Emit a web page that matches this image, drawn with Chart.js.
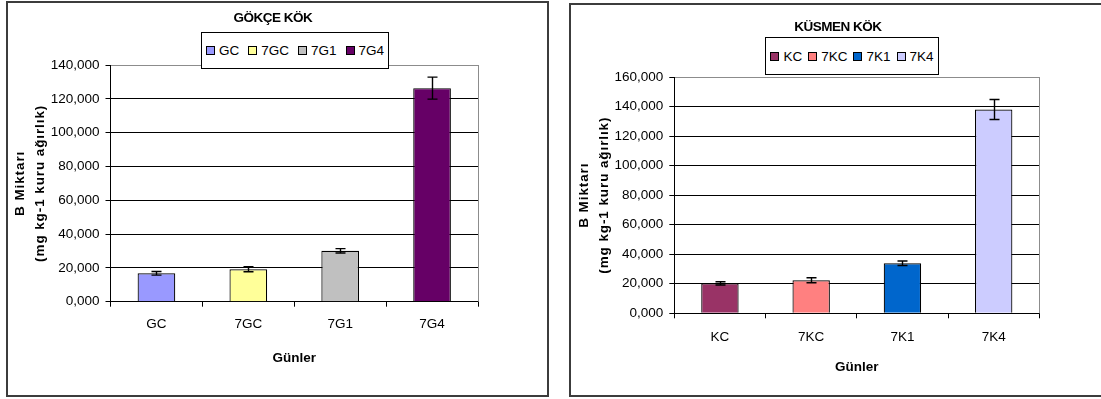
<!DOCTYPE html>
<html>
<head>
<meta charset="utf-8">
<script src="https://cdn.jsdelivr.net/npm/chart.js@4.4.1/dist/chart.umd.min.js"></script>
<style>
  html, body { margin: 0; padding: 0; background: #fff; }
  body { width: 1101px; height: 399px; position: relative; overflow: hidden;
         font-family: 'Liberation Sans', Arial, sans-serif; color: #000; }
  .frame { position: absolute; border: 2px solid #3c3c3c; box-sizing: border-box; }
  canvas { position: absolute; top: 0; }
  .ttl { position: absolute; font-weight: bold; font-size: 13.5px; white-space: nowrap;
         transform: translate(-50%, -50%); letter-spacing: -0.5px; }
  .lg { position: absolute; border: 1px solid #000; background: #fff; box-sizing: border-box;
        display: flex; align-items: center; justify-content: center; font-size: 13.5px; z-index: 2; }
  .lg .it { display: flex; align-items: center; gap: 4px; }
  .lg i { display: inline-block; width: 7px; height: 7px; border: 1px solid #000; }
</style>
</head>
<body>
<div class="frame" style="left:6px;top:1px;width:543px;height:396px;"></div>
<div class="frame" style="left:569px;top:3px;width:540px;height:394px;"></div>

<canvas id="gokce" width="550" height="399" style="left:0;width:550px;height:399px;"></canvas>
<canvas id="kusmen" width="551" height="399" style="left:550px;width:551px;height:399px;"></canvas>

<div class="ttl" style="left:273px;top:17px;">GÖKÇE KÖK</div>
<div class="ttl" style="left:838px;top:26px;">KÜSMEN KÖK</div>
<div class="lg" id="gokceLegend" style="left:201px;top:32px;width:188px;height:37px;gap:9px;"></div>
<div class="lg" id="kusmenLegend" style="left:765px;top:37px;width:174px;height:38px;gap:6px;"></div>

<script>
// B content of roots, mg kg-1 dry weight, mean and error per treatment
const gokceLabels = ['GC', '7GC', '7G1', '7G4'];
const gokceValues = [16.8, 19.2, 30.1, 126.3];
const gokceErrors = [1.1, 1.5, 1.3, 6.5];
const gokceColors = ['#9999FF', '#FFFF99', '#C0C0C0', '#660066'];
const gokceYMax = 140;

const kusmenLabels = ['KC', '7KC', '7K1', '7K4'];
const kusmenValues = [20.3, 22.4, 33.9, 138.0];
const kusmenErrors = [1.1, 1.7, 1.5, 6.8];
const kusmenColors = ['#993366', '#FF8080', '#0066CC', '#CCCCFF'];
const kusmenYMax = 160;

const yStep = 20;
const xTitle = 'Günler';
const yTitle = ['B Miktarı', '(mg kg-1 kuru ağırlık)'];

const FONT = "'Liberation Sans', Arial, sans-serif";

// vertical error bars with short caps on each bar
const errorBars = {
  id: 'errorBars',
  afterDatasetsDraw(chart) {
    const ctx = chart.ctx;
    const ds = chart.data.datasets[0];
    const meta = chart.getDatasetMeta(0);
    const y = chart.scales.y;
    ctx.save();
    ctx.strokeStyle = '#000';
    ctx.lineWidth = 1.4;
    meta.data.forEach((bar, i) => {
      const v = ds.data[i], e = ds.errors[i];
      const x = Math.round(bar.x) + 0.5;
      const yt = y.getPixelForValue(v + e), yb = y.getPixelForValue(v - e);
      ctx.beginPath();
      ctx.moveTo(x, yt); ctx.lineTo(x, yb);
      ctx.moveTo(x - 5, yt); ctx.lineTo(x + 5, yt);
      ctx.moveTo(x - 5, yb); ctx.lineTo(x + 5, yb);
      ctx.stroke();
    });
    ctx.restore();
  }
};

// grey right edge of the plot area, and spaced lettering for the value axis title
const plotEdge = {
  id: 'plotEdge',
  afterLayout(chart) {
    const sc = chart.scales.y;
    if (sc._spacedTitle) return;
    const orig = sc.drawTitle;
    sc.drawTitle = function () {
      const ctx = this.ctx;
      ctx.save();
      ctx.letterSpacing = '0.9px';
      orig.apply(this, arguments);
      ctx.restore();
    };
    sc._spacedTitle = true;
  },
  beforeDatasetsDraw(chart) {
    const {ctx, chartArea} = chart;
    const x = Math.round(chartArea.right) + 0.5;
    ctx.save();
    ctx.strokeStyle = '#8c8c8c';
    ctx.lineWidth = 1;
    ctx.beginPath();
    ctx.moveTo(x, chartArea.top);
    ctx.lineTo(x, chartArea.bottom);
    ctx.stroke();
    ctx.restore();
  }
};

function fmt(v) { return v.toFixed(3).replace('.', ','); }

function makeChart(id, legendId, labels, values, errors, colors, yMax, geo) {
  const chart = new Chart(document.getElementById(id), {
    type: 'bar',
    data: {
      labels: labels,
      datasets: [{
        data: values,
        errors: errors,
        backgroundColor: colors,
        borderColor: '#000',
        borderWidth: 1.2,
        categoryPercentage: 1,
        barPercentage: 0.41
      }]
    },
    options: {
      responsive: false,
      animation: false,
      events: [],
      layout: { padding: geo.padding },
      plugins: { legend: { display: false }, title: { display: false }, tooltip: { enabled: false } },
      scales: {
        x: {
          afterFit: s => { s.height = 70; },
          grid: { display: true, drawOnChartArea: false, drawTicks: true, tickLength: 5, color: '#000', offset: true },
          border: { color: '#000', width: 1 },
          ticks: { color: '#000', font: { family: FONT, size: 13.5 }, padding: geo.xTickPad },
          title: { display: true, text: xTitle, color: '#000',
                   font: { family: FONT, size: 13.5, weight: 'bold' }, padding: { top: 0, bottom: geo.xTitlePad } }
        },
        y: {
          min: 0, max: yMax,
          afterFit: s => { s.width = geo.yWidth; },
          grid: {
            color: c => (c.tick && c.tick.value === yMax) ? '#8c8c8c' : '#000',
            tickColor: '#000', tickLength: 5, lineWidth: 1
          },
          border: { color: '#000', width: 1 },
          ticks: { stepSize: yStep, color: '#000', padding: 6,
                   font: { family: FONT, size: 13.5 }, callback: v => fmt(v) },
          title: { display: true, text: yTitle, color: '#000',
                   font: { family: FONT, size: 13.5, weight: 'bold', lineHeight: 1.5 },
                   padding: { top: geo.yTitlePad, bottom: 0 } }
        }
      }
    },
    plugins: [plotEdge, errorBars]
  });

  // legend box, one entry per bar colour
  const lg = document.getElementById(legendId);
  labels.forEach((lab, i) => {
    const it = document.createElement('span');
    it.className = 'it';
    const sw = document.createElement('i');
    sw.style.background = colors[i];
    const tx = document.createElement('span');
    tx.textContent = lab;
    it.appendChild(sw); it.appendChild(tx);
    lg.appendChild(it);
  });
  return chart;
}

makeChart('gokce', 'gokceLegend', gokceLabels, gokceValues, gokceErrors, gokceColors, gokceYMax, {
  padding: { left: 0, right: 72, top: 65, bottom: 27.3 },
  yWidth: 110.5, xTickPad: 9, xTitlePad: 5, yTitlePad: 9.9
});

makeChart('kusmen', 'kusmenLegend', kusmenLabels, kusmenValues, kusmenErrors, kusmenColors, kusmenYMax, {
  padding: { left: 0, right: 61.7, top: 77, bottom: 15.7 },
  yWidth: 124.3, xTickPad: 11, xTitlePad: 8, yTitlePad: 23.9
});
</script>
</body>
</html>
